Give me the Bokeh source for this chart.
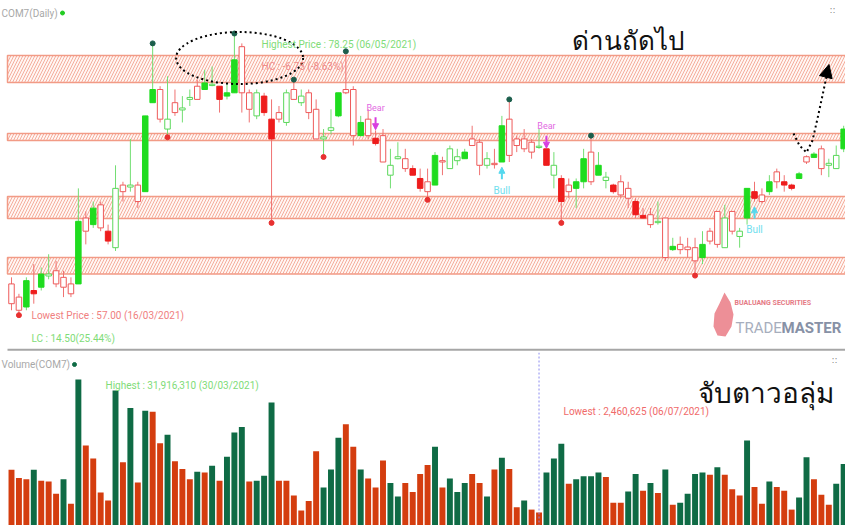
import numpy as np
from bokeh.plotting import figure
from bokeh.layouts import column
from bokeh.models import Range1d, Span, Arrow, NormalHead, Label
from bokeh.embed import file_html
from bokeh.resources import INLINE

# ---------------- data (COM7 daily) ----------------
opens = [59.25, 58.25, 57.5, 58.5, 59.0, 60.0, 60.25, 59.75, 59.25, 59.25,
         64.25, 63.75, 65.25, 62.5, 66.5, 66.75, 66.75, 66.75, 66.25, 73.0,
         74.0, 71.75, 73.0, 72.6, 73.4, 74.25, 74.0, 74.4, 73.25, 73.5,
         73.75, 77.25, 73.75, 73.75, 72.25, 70.25, 72.25, 73.75, 74.0, 73.5,
         73.75, 72.5, 70.4, 71.1, 72.0, 74.0, 74.0, 70.5, 71.75, 69.9,
         70.5, 68.25, 68.9, 68.75, 67.5, 66.5, 67.0, 66.75, 68.6, 69.5,
         68.9, 68.75, 70.25, 70.0, 68.75, 68.4, 68.5, 71.75, 70.25, 70.25,
         70.0, 69.7, 68.25, 68.25, 65.5, 66.75, 66.5, 67.0, 69.25, 67.5,
         67.35, 66.25, 67.0, 66.5, 64.5, 64.25, 64.5, 64.0, 64.25, 61.85,
         62.25, 62.05, 62.0, 61.25, 63.25, 64.75, 64.25, 64.75, 63.25, 64.25,
         65.75, 66.0, 66.25, 67.75, 66.75, 66.5, 67.25, 68.9, 68.85, 69.5,
         68.4, 69.0, 69.5]
highs = [59.75, 58.5, 59.75, 60.75, 60.5, 61.5, 61.0, 60.25, 59.75, 66.5,
         64.75, 65.5, 65.5, 63.75, 68.25, 67.0, 70.25, 67.0, 72.0, 77.5,
         74.25, 75.0, 74.0, 73.5, 74.0, 74.75, 75.5, 75.75, 74.25, 74.5,
         78.25, 77.5, 74.0, 74.0, 73.75, 73.25, 72.75, 74.0, 74.75, 74.0,
         74.0, 73.25, 71.0, 72.5, 73.75, 76.9, 74.25, 72.0, 72.5, 70.9,
         71.0, 69.5, 70.0, 69.5, 68.25, 68.0, 68.0, 69.25, 68.9, 69.75,
         69.5, 69.5, 71.25, 70.25, 69.25, 69.5, 72.0, 73.25, 70.5, 71.0,
         70.25, 71.0, 69.5, 69.25, 67.5, 67.25, 67.25, 69.5, 70.5, 69.25,
         67.75, 66.85, 67.5, 67.0, 65.75, 65.0, 65.0, 65.5, 64.25, 62.75,
         62.85, 62.75, 62.75, 63.25, 63.5, 64.75, 65.25, 64.75, 63.5, 66.5,
         67.0, 66.5, 67.5, 68.0, 67.5, 66.85, 67.75, 69.0, 69.25, 69.75,
         68.75, 69.75, 71.25]
lows = [57.25, 57.0, 57.25, 57.75, 58.75, 59.6, 59.0, 58.25, 58.25, 59.25,
        62.25, 63.5, 63.25, 62.25, 61.75, 65.5, 66.25, 65.0, 66.25, 73.0,
        71.5, 70.5, 72.0, 71.5, 72.75, 73.25, 74.0, 74.25, 72.25, 73.25,
        73.75, 72.25, 71.5, 71.75, 72.0, 64.0, 71.5, 71.25, 73.25, 72.75,
        71.75, 70.25, 69.0, 70.6, 71.9, 73.65, 69.75, 70.5, 70.25, 69.75,
        68.5, 66.5, 68.7, 67.75, 67.5, 66.25, 65.75, 66.75, 67.5, 68.0,
        68.25, 68.75, 69.75, 67.5, 68.0, 68.0, 68.5, 68.5, 69.25, 69.25,
        68.75, 69.5, 68.25, 66.5, 64.0, 65.75, 65.0, 66.5, 66.75, 67.5,
        66.5, 66.1, 65.75, 65.0, 64.25, 64.2, 63.5, 63.75, 61.0, 61.75,
        61.5, 61.25, 60.0, 60.75, 62.25, 62.0, 62.0, 63.0, 62.0, 63.75,
        65.5, 65.35, 66.0, 66.5, 66.25, 66.35, 67.2, 68.35, 68.8, 67.5,
        67.35, 68.0, 69.25]
closes = [57.75, 57.25, 59.5, 58.75, 60.0, 59.85, 59.25, 59.0, 58.5, 64.0,
          63.25, 65.0, 63.5, 63.25, 62.0, 66.25, 66.6, 65.5, 72.0, 74.0,
          71.75, 71.0, 72.25, 72.45, 73.25, 73.25, 74.5, 74.3, 74.25, 73.75,
          76.25, 73.75, 72.5, 72.0, 73.5, 71.75, 71.75, 71.5, 73.25, 73.0,
          72.25, 70.25, 70.25, 70.9, 73.75, 73.75, 70.5, 71.5, 70.5, 70.3,
          68.5, 67.5, 68.75, 68.0, 68.0, 67.25, 66.25, 69.0, 68.5, 68.0,
          68.6, 69.25, 69.75, 68.25, 68.25, 68.3, 71.25, 69.0, 69.75, 69.5,
          69.25, 69.6, 69.5, 67.5, 67.25, 66.25, 67.0, 68.75, 67.0, 68.25,
          67.1, 66.75, 66.0, 65.75, 65.5, 64.45, 63.75, 63.9, 61.25, 62.1,
          61.85, 61.85, 61.0, 62.25, 62.5, 62.25, 62.0, 63.25, 62.85, 66.5,
          66.25, 65.5, 67.0, 67.0, 67.0, 66.75, 67.6, 68.5, 69.1, 68.0,
          68.25, 68.0, 71.0]
# candle colour vs. previous session (G = up, R = down)
candle_dir = ("RRGRGGRRRG" "RGRRGRGRGG" "RGRGGRGGRG" "GRRGRRRGRG" "RRGGGRRGRR"
              "RGGRRRRGRG" "GGRRGRGRRR" "RGRGRRGGRG" "GRRRRRRGRG" "RRRGRRGRGG"
              "RRGRRRGRGR" "GGG")
# volume, millions of shares
volume_m = [11.9, 10.1, 9.8, 11.9, 9.5, 9.3, 6.6, 9.8, 4.4, 31.91631,
            17.3, 14.4, 6.9, 5.1, 29.5, 13.6, 25.6, 9.1, 25.0, 24.8,
            17.8, 19.7, 13.8, 12.1, 9.8, 11.5, 11.3, 12.8, 9.5, 14.8,
            20.2, 21.4, 9.3, 9.5, 10.6, 26.8, 9.5, 9.5, 6.2, 2.9,
            5.0, 16.0, 8.0, 12.0, 19.0, 22.0, 17.0, 12.0, 10.0, 8.0,
            14.0, 9.0, 6.0, 9.0, 7.0, 11.0, 13.0, 17.0, 8.0, 10.0,
            7.0, 9.0, 11.0, 9.0, 6.0, 12.0,
            14.6, 12.1, 3.6, 5.1, 3.1, 2.460625, 11.3, 14.4, 17.7, 8.8,
            9.8, 10.5, 10.5, 11.3, 10.3, 4.6, 4.6, 7.1, 11.0, 7.3,
            9.0, 6.8, 12.0, 4.2, 4.6, 6.6, 11.0, 11.3, 10.8, 12.5,
            10.8, 7.6, 6.2, 18.4, 8.1, 4.4, 9.3, 8.1, 7.3, 3.1,
            5.8, 14.7, 9.8, 6.4, 4.2, 8.8, 13.2]
volume_dir = ("RRRGRRRGRG" "RRRRGRGRGR" "RGRRRGRGRG" "GGRGGGRRRR" "RRGGGRRGRR"
              "RGGRRRRGRG" "GGRRGRGRRG" "RRGGGRGGGG" "RRRGGRGRGR" "GGGGRGRRRG"
              "RRGRRRGGRR" "RGG")
# support / resistance zones (top, bottom)
zone_top = [76.58, 70.66, 65.88, 61.25]
zone_bottom = [74.53, 70.13, 64.21, 60.0]
pivot_high_idx = [19, 30, 38, 45, 67, 78]
pivot_low_idx = [1, 21, 35, 42, 56, 74, 92]
bear_idx = [49, 72]
bull_idx = [66, 100]
lowest_vol_idx = 71

# ---------------- layout constants (page pixels) ----------------
STEP, X0 = 7.43, 11.0          # px per session, px of first session
PPU, YHI = 13.18, 33.0         # px per baht, px row of highest price
VPX, VBASE = 4.515, 523.1      # px per million shares, px row of zero volume
W, H1, H2 = 845, 352, 173
FONT = "Roboto"

o, h, l, c = map(np.array, (opens, highs, lows, closes))
N = len(c)
idx = np.arange(N)
hi_price = h.max()


def xd(px):
    return (px - X0) / STEP


def yd(py):
    return hi_price - (py - YHI) / PPU


def vd(py):
    return (VBASE - py) / VPX


xr = Range1d(xd(0), xd(W))
p = figure(width=W, height=H1, x_range=xr, y_range=Range1d(yd(H1), yd(0)),
           toolbar_location=None, output_backend="svg",
           x_axis_location=None, y_axis_location=None, min_border=0,
           outline_line_color=None, background_fill_color="white")
p.grid.visible = False

# zones
p.quad(left=xd(7), right=xd(900), top=zone_top, bottom=zone_bottom,
       fill_color="#fff6f3", hatch_pattern="/", hatch_color="#f5ad9c",
       hatch_scale=6, hatch_weight=1, line_color="#f29b86", line_width=1.5)

# candles
up = np.array([d == "G" for d in candle_dir])
filled = c > o
wick_col = np.where(up, "#72de72", "#f07272")
fill_col = np.where(filled, np.where(up, "#1fdc1f", "#ee1c1c"), "white")
line_col = np.where(filled, np.where(up, "#1fdc1f", "#ee1c1c"),
                    np.where(up, "#5ad85a", "#ee5a5a"))
p.segment(idx, h, idx, l, line_color=list(wick_col), line_width=1)
p.vbar(x=idx, width=0.74, top=np.maximum(o, c), bottom=np.minimum(o, c),
       fill_color=list(fill_col), line_color=list(line_col), line_width=1)

# pivots
p.scatter(pivot_high_idx, h[pivot_high_idx], size=5, color="#1b5e4c")
p.scatter(pivot_low_idx, l[pivot_low_idx] - 0.12, size=5, color="#e83030")

imax = int(np.argmax(h))

# dotted ellipse around the top
p.ellipse(x=imax + 0.7, y=hi_price - 1.86, width=127, height=52,
          width_units="screen", height_units="screen", fill_alpha=0,
          line_color="black", line_dash="2 3", line_width=2)

# dotted arrow to next resistance
px_path = [793, 799, 806, 812, 817, 822, 826]
py_path = [133, 145, 152, 140, 118, 95, 76]
p.line([xd(v) for v in px_path], [yd(v) for v in py_path], line_color="black",
       line_dash="2 3", line_width=2)
p.add_layout(Arrow(end=NormalHead(size=13, fill_color="black", line_color="black"),
                   x_start=xd(825), y_start=yd(78), x_end=xd(828.5), y_end=yd(64),
                   line_alpha=0))

# Bear / Bull signals
for i in bear_idx:
    top = h[i]
    p.add_layout(Arrow(end=NormalHead(size=6, fill_color="#d83ee0", line_color="#d83ee0"),
                       x_start=i, y_start=top + 1.0, x_end=i, y_end=top + 0.05,
                       line_color="#d83ee0", line_width=2))
    p.add_layout(Label(x=i, y=top + 1.7, text="Bear", text_align="center",
                       text_baseline="middle", text_font=FONT,
                       text_font_size="9px", text_color="#e26ae2"))
for i in bull_idx:
    bot = l[i] - 0.4
    p.add_layout(Arrow(end=NormalHead(size=6, fill_color="#55d8ee", line_color="#55d8ee"),
                       x_start=i, y_start=bot - 0.9, x_end=i, y_end=bot,
                       line_color="#55d8ee", line_width=2))
    p.add_layout(Label(x=i, y=bot - 1.75, text="Bull", text_align="center",
                       text_baseline="middle", text_font=FONT,
                       text_font_size="10px", text_color="#6fe0ee"))

lbl = dict(text_font=FONT, text_font_size="10px", text_baseline="middle")
p.add_layout(Label(x=xd(1), y=yd(12.5), text="COM7(Daily)",
                   text_color="#a8a8a8", **lbl))
p.scatter([xd(62)], [yd(12.5)], size=4, color="#22cc22")
p.add_layout(Label(x=xd(261), y=yd(43.5), text="Highest Price : 78.25 (06/05/2021)",
                   text_color="#80dc78", **lbl))
p.add_layout(Label(x=xd(261), y=yd(65.5), text="HC : -6.75 (-8.63%)",
                   text_color="#f08c8c", **lbl))
p.add_layout(Label(x=xd(31), y=yd(315), text="Lowest Price : 57.00 (16/03/2021)",
                   text_color="#f08080", **lbl))
p.add_layout(Label(x=xd(31), y=yd(338), text="LC : 14.50(25.44%)",
                   text_color="#80dc78", **lbl))
p.add_layout(Label(x=xd(571), y=yd(39), text="ด่านถัดไป", text_font="Noto Sans",
                   text_font_size="26px", text_color="#111111",
                   text_baseline="alphabetic"))
p.add_layout(Label(x=xd(829), y=yd(9), text="::", text_font="DejaVu Sans",
                   text_font_size="9px", text_color="#888888", text_baseline="middle"))

# watermark logo
flame_px = [724, 730, 733, 731, 725, 717, 713, 714, 719]
flame_py = [292, 302, 314, 326, 336, 335, 326, 313, 303]
p.patch([xd(v) for v in flame_px], [yd(v) for v in flame_py],
        fill_color="#ea7b85", fill_alpha=0.85, line_color=None)
p.add_layout(Label(x=xd(734), y=yd(302.5), text="BUALUANG SECURITIES",
                   text_font=FONT, text_font_size="7px", text_font_style="bold",
                   text_color="#e57a84", text_baseline="middle"))
p.add_layout(Label(x=xd(735), y=yd(327), text="TRADE", text_font=FONT,
                   text_font_size="15px", text_color="#a7aebd",
                   text_baseline="alphabetic"))
p.add_layout(Label(x=xd(781), y=yd(327), text="MASTER", text_font=FONT,
                   text_font_size="15px", text_font_style="bold",
                   text_color="#8791a6", text_baseline="alphabetic"))

# separator between panels
p.segment(x0=[xd(7)], y0=[yd(349.3)], x1=[xd(900)], y1=[yd(349.3)],
          line_color="#a6a6a6", line_width=2)

# ---------------- volume panel ----------------
v = figure(width=W, height=H2, x_range=xr, y_range=Range1d(vd(H1 + H2), vd(H1)),
           toolbar_location=None, output_backend="svg",
           x_axis_location=None, y_axis_location=None, min_border=0,
           outline_line_color=None, background_fill_color="white")
v.grid.visible = False
vcol = ["#0f6b45" if d == "G" else "#d43d0f" for d in volume_dir]
v.vbar(x=idx, width=0.8, top=volume_m, bottom=vd(H1 + H2 + 5),
       fill_color=vcol, line_color=None)
v.add_layout(Span(location=lowest_vol_idx, dimension="height", line_color="#8c8cf0",
                  line_dash="2 2", line_width=1))

v.add_layout(Label(x=xd(1), y=vd(364), text="Volume(COM7)",
                   text_color="#a8a8a8", **lbl))
v.scatter([xd(74)], [vd(364)], size=4, color="#0f6b45")
v.add_layout(Label(x=xd(105), y=vd(385), text="Highest : 31,916,310 (30/03/2021)",
                   text_color="#80dc78", **lbl))
v.add_layout(Label(x=xd(563), y=vd(410.5), text="Lowest : 2,460,625 (06/07/2021)",
                   text_color="#f06a6a", **lbl))
v.add_layout(Label(x=xd(697), y=vd(391), text="จับตาวอลุ่ม", text_font="Noto Sans",
                   text_font_size="28px", text_color="#111111",
                   text_baseline="alphabetic"))
v.add_layout(Label(x=xd(831), y=vd(359), text="::", text_font="DejaVu Sans",
                   text_font_size="9px", text_color="#888888", text_baseline="middle"))

layout = column(p, v, spacing=0)
open("out.html", "w").write(file_html(layout, INLINE))
